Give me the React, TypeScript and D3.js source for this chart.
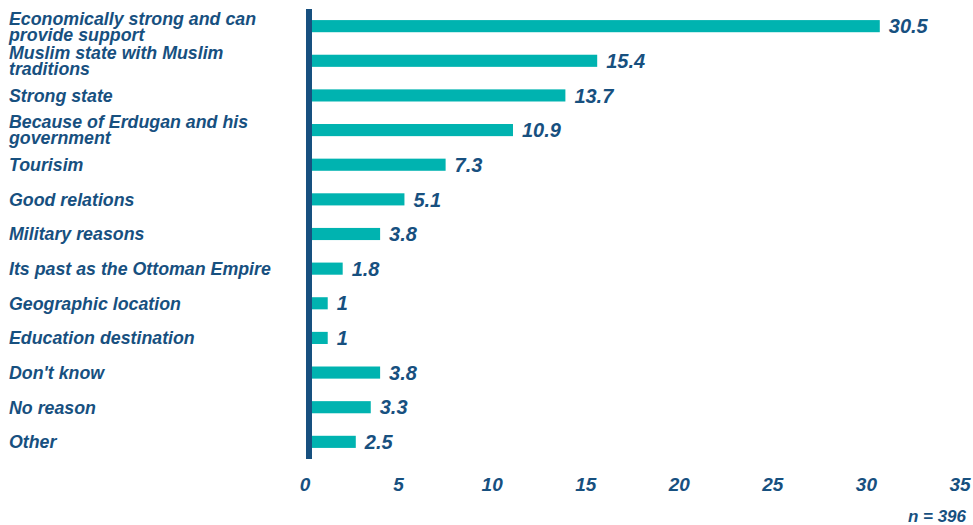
import React from "react";
import * as d3 from "d3";

const categories: string[][] = [
  ["Economically strong and can", "provide support"],
  ["Muslim state with Muslim", "traditions"],
  ["Strong state"],
  ["Because of Erdugan and his", "government"],
  ["Tourisim"],
  ["Good relations"],
  ["Military reasons"],
  ["Its past as the Ottoman Empire"],
  ["Geographic location"],
  ["Education destination"],
  ["Don't know"],
  ["No reason"],
  ["Other"],
];
const values: number[] = [30.5, 15.4, 13.7, 10.9, 7.3, 5.1, 3.8, 1.8, 1, 1, 3.8, 3.3, 2.5];
const xTicks: number[] = [0, 5, 10, 15, 20, 25, 30, 35];
const note = "n = 396";

const W = 973;
const H = 525;
const DARK = "#17507f";
const TEAL = "#00b3b0";
const FONT = "'Liberation Sans', Arial, sans-serif";

export default function App() {
  const x = d3.scaleLinear().domain([0, 35]).range([309, 964]);
  const y = d3
    .scaleBand<number>()
    .domain(values.map((_, i) => i))
    .range([9, 459])
    .paddingInner(0.65)
    .paddingOuter(0.32);
  const bh = y.bandwidth();

  return (
    <svg
      width={W}
      height={H}
      style={{ position: "absolute", left: 0, top: 0, background: "#fff" }}
      fontFamily={FONT}
    >
      {values.map((v, i) => {
        const cy = (y(i) as number) + bh / 2;
        const lines = categories[i];
        const lh = 16;
        const startY = cy - ((lines.length - 1) * lh) / 2;
        return (
          <g key={i}>
            <rect x={312} y={y(i)} width={x(v) - 312} height={bh} fill={TEAL} />
            <text
              x={x(v) + 9}
              y={cy}
              dy="0.36em"
              fill={DARK}
              fontSize={20}
              fontWeight="bold"
              fontStyle="italic"
            >
              {v}
            </text>
            <text
              fill={DARK}
              fontSize={17.8}
              fontWeight="bold"
              fontStyle="italic"
            >
              {lines.map((ln, j) => (
                <tspan key={j} x={9} y={startY + j * lh + 6.4}>
                  {ln}
                </tspan>
              ))}
            </text>
          </g>
        );
      })}
      <line x1={309} x2={309} y1={9} y2={459} stroke={DARK} strokeWidth={6} />
      {xTicks.map((t) => (
        <text
          key={t}
          x={x(t) - 4}
          y={484}
          dy="0.36em"
          textAnchor="middle"
          fill={DARK}
          fontSize={19}
          fontWeight="bold"
          fontStyle="italic"
        >
          {t}
        </text>
      ))}
      <text
        x={966}
        y={516}
        dy="0.36em"
        textAnchor="end"
        fill={DARK}
        fontSize={17}
        fontWeight="bold"
        fontStyle="italic"
      >
        {note}
      </text>
    </svg>
  );
}
